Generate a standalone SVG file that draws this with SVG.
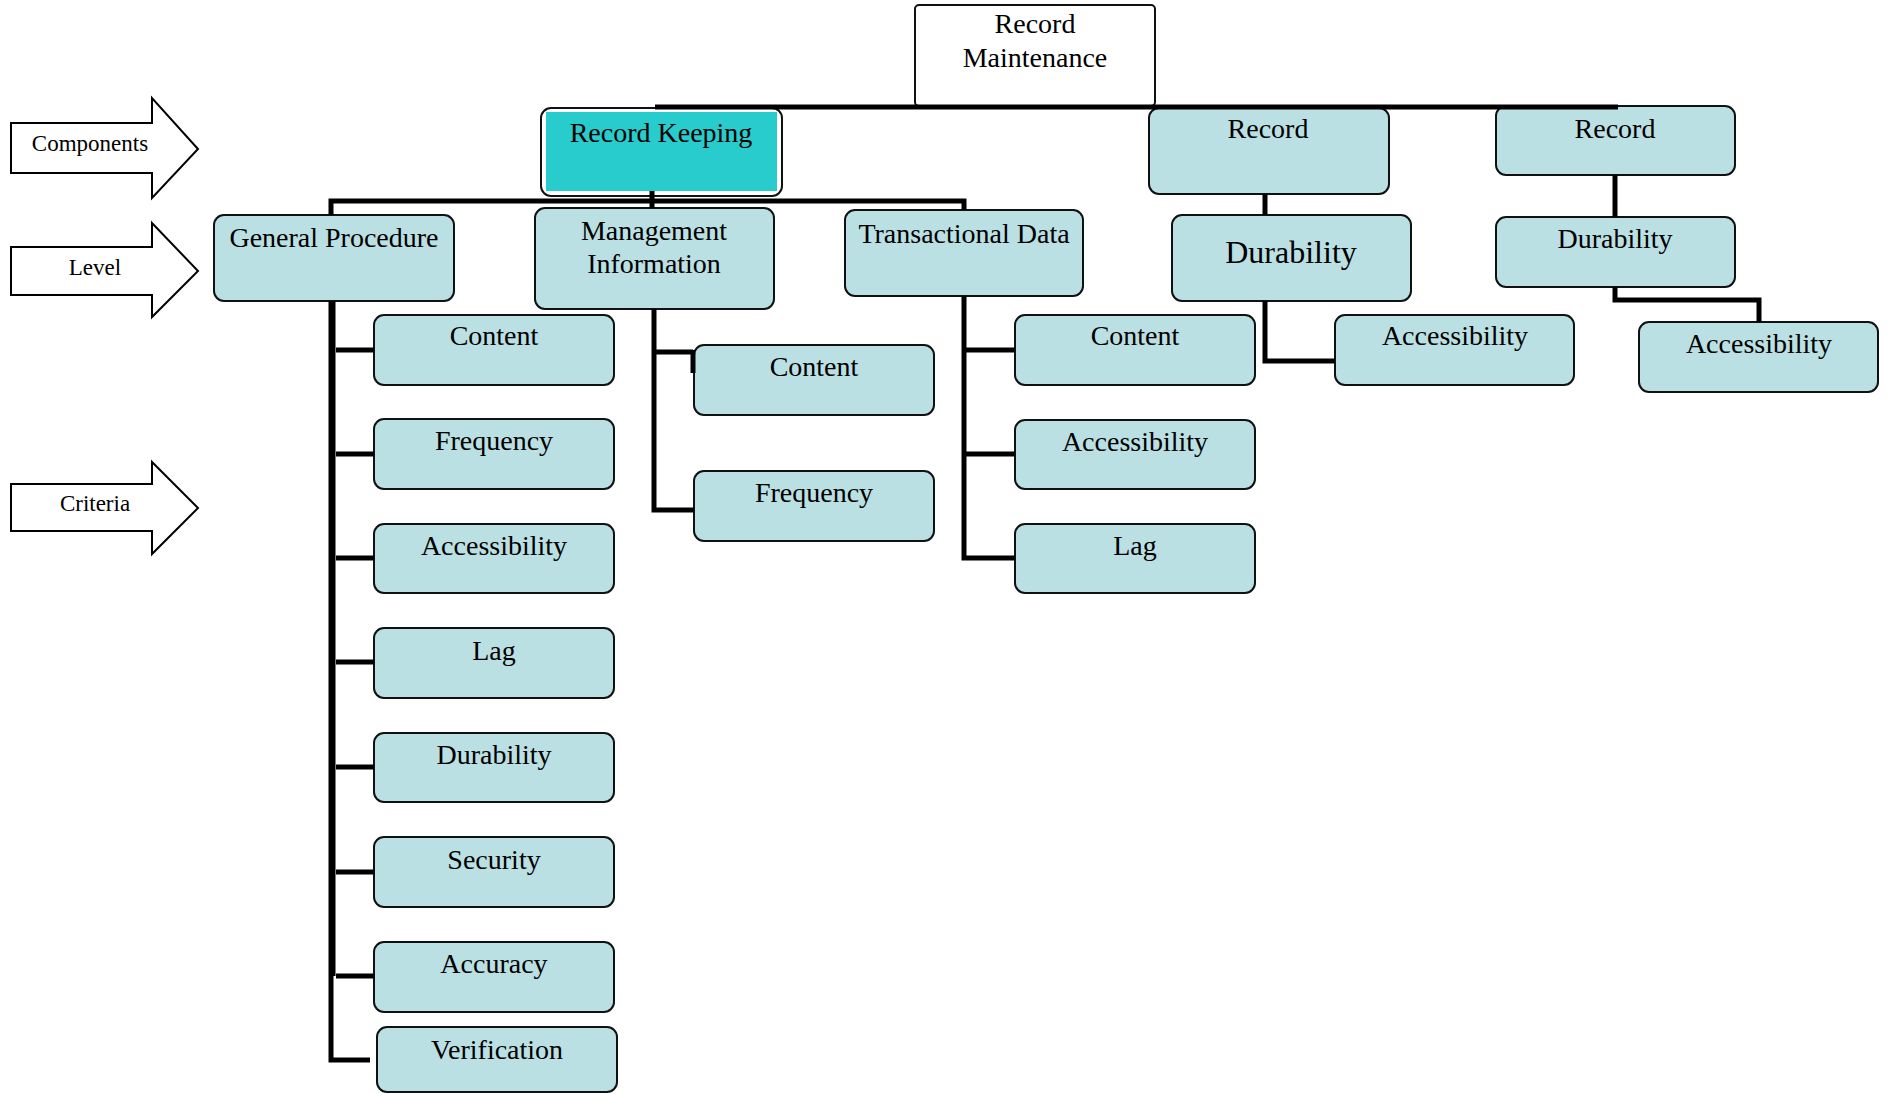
<svg xmlns="http://www.w3.org/2000/svg" width="1889" height="1093" viewBox="0 0 1889 1093">
<style>
.box{fill:#BAE0E3;stroke:#111;stroke-width:2}
.t{font-family:"Liberation Serif","Times New Roman",serif;font-size:28px;fill:#000;text-anchor:middle}
.big{font-size:32px}
.sm{font-size:23px}
.arr{fill:#fff;stroke:#000;stroke-width:2}
.c{fill:none;stroke:#000;stroke-width:5;stroke-linejoin:miter;stroke-linecap:butt}
</style>
<rect width="1889" height="1093" fill="#fff"/>
<g id="labels">
<g id="arrow-components"><path class="arr" d="M11,123 H152 V98 L198,149 L152,198 V173 H11 Z"/><text class="t sm" x="90" y="151">Components</text></g>
<g id="arrow-level"><path class="arr" d="M11,247 H152 V223 L198,271 L152,317 V295 H11 Z"/><text class="t sm" x="95" y="275">Level</text></g>
<g id="arrow-criteria"><path class="arr" d="M11,484 H152 V462 L198,508 L152,554 V531 H11 Z"/><text class="t sm" x="95" y="511">Criteria</text></g>
</g>
<g id="nodes">
<g id="record-maintenance"><rect x="915" y="5" width="240" height="101" rx="4" fill="#fff" stroke="#111" stroke-width="2"/><text class="t" x="1035" y="33">Record</text><text class="t" x="1035" y="67">Maintenance</text></g>
<g id="record-keeping"><rect x="541" y="108" width="241" height="88" rx="10" fill="#fff" stroke="#111" stroke-width="2"/><rect x="546" y="112" width="231" height="79" fill="#29CCCC"/><text class="t" x="661" y="142">Record Keeping</text></g>
<g id="record-mid"><rect class="box" x="1149" y="108" width="240" height="86" rx="10"/><text class="t" x="1268" y="138">Record</text></g>
<g id="record-right"><rect class="box" x="1496" y="106" width="239" height="69" rx="10"/><text class="t" x="1615" y="138">Record</text></g>
<g id="general-procedure"><rect class="box" x="214" y="215" width="240" height="86" rx="10"/><text class="t" x="334" y="247">General Procedure</text></g>
<g id="management-information"><rect class="box" x="535" y="208" width="239" height="101" rx="10"/><text class="t" x="654" y="240">Management</text><text class="t" x="654" y="273">Information</text></g>
<g id="transactional-data"><rect class="box" x="845" y="210" width="238" height="86" rx="10"/><text class="t" x="964" y="243">Transactional Data</text></g>
<g id="durability-mid"><rect class="box" x="1172" y="215" width="239" height="86" rx="10"/><text class="t big" x="1291" y="263">Durability</text></g>
<g id="durability-right"><rect class="box" x="1496" y="217" width="239" height="70" rx="10"/><text class="t" x="1615" y="248">Durability</text></g>
<g id="accessibility-mid"><rect class="box" x="1335" y="315" width="239" height="70" rx="10"/><text class="t" x="1455" y="345">Accessibility</text></g>
<g id="accessibility-right"><rect class="box" x="1639" y="322" width="239" height="70" rx="10"/><text class="t" x="1759" y="353">Accessibility</text></g>
<g id="td-content"><rect class="box" x="1015" y="315" width="240" height="70" rx="10"/><text class="t" x="1135" y="345">Content</text></g>
<g id="td-accessibility"><rect class="box" x="1015" y="420" width="240" height="69" rx="10"/><text class="t" x="1135" y="451">Accessibility</text></g>
<g id="td-lag"><rect class="box" x="1015" y="524" width="240" height="69" rx="10"/><text class="t" x="1135" y="555">Lag</text></g>
<g id="mi-content"><rect class="box" x="694" y="345" width="240" height="70" rx="10"/><text class="t" x="814" y="376">Content</text></g>
<g id="mi-frequency"><rect class="box" x="694" y="471" width="240" height="70" rx="10"/><text class="t" x="814" y="502">Frequency</text></g>
<g id="gp-content"><rect class="box" x="374" y="315" width="240" height="70" rx="10"/><text class="t" x="494" y="345">Content</text></g>
<g id="gp-frequency"><rect class="box" x="374" y="419" width="240" height="70" rx="10"/><text class="t" x="494" y="450">Frequency</text></g>
<g id="gp-accessibility"><rect class="box" x="374" y="524" width="240" height="69" rx="10"/><text class="t" x="494" y="555">Accessibility</text></g>
<g id="gp-lag"><rect class="box" x="374" y="628" width="240" height="70" rx="10"/><text class="t" x="494" y="660">Lag</text></g>
<g id="gp-durability"><rect class="box" x="374" y="733" width="240" height="69" rx="10"/><text class="t" x="494" y="764">Durability</text></g>
<g id="gp-security"><rect class="box" x="374" y="837" width="240" height="70" rx="10"/><text class="t" x="494" y="869">Security</text></g>
<g id="gp-accuracy"><rect class="box" x="374" y="942" width="240" height="70" rx="10"/><text class="t" x="494" y="973">Accuracy</text></g>
<g id="gp-verification"><rect class="box" x="377" y="1027" width="240" height="65" rx="10"/><text class="t" x="497" y="1059">Verification</text></g>
</g>
<g id="connectors">
<path class="c" d="M655,107 H1618" stroke-width="6"/>
<path class="c" d="M652,191 V208"/>
<path class="c" d="M331,215 V201 H964 V210"/>
<path class="c" d="M1265,194 V215"/>
<path class="c" d="M1615,175 V217"/>
<path class="c" d="M1265,301 V361 H1335"/>
<path class="c" d="M1615,287 V300 H1759 V322"/>
<path class="c" d="M964,296 V558 H1015"/>
<path class="c" d="M964,350 H1015"/>
<path class="c" d="M964,454 H1015"/>
<path class="c" d="M654,309 V510 H694"/>
<path class="c" d="M654,352 H693"/>
<path class="c" d="M693,350 V373" stroke-width="2"/>
<path class="c" d="M333,301 V976" stroke-width="8"/>
<path class="c" d="M331,301 V1060 H370"/>
<path class="c" d="M336,350 H374"/>
<path class="c" d="M336,454 H374"/>
<path class="c" d="M336,558 H374"/>
<path class="c" d="M336,662 H374"/>
<path class="c" d="M336,767 H374"/>
<path class="c" d="M336,872 H374"/>
<path class="c" d="M336,976 H374"/>
</g>
</svg>
